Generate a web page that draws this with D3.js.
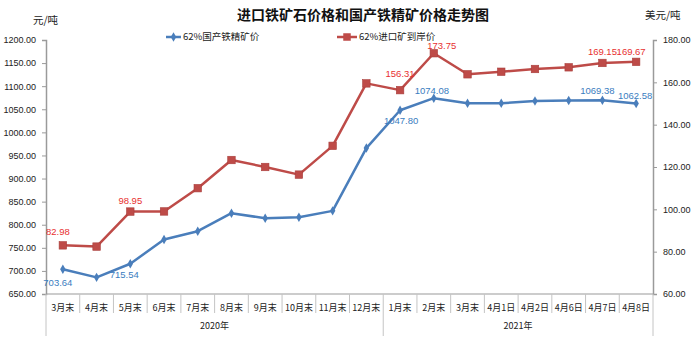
<!DOCTYPE html>
<html>
<head>
<meta charset="utf-8">
<script src="https://cdn.jsdelivr.net/npm/d3@7"></script>
<style>
  html, body { margin: 0; padding: 0; background: #ffffff; }
  svg { display: block; }
  .cjk { font-family: "Noto Sans CJK SC", "Noto Sans", sans-serif; }
  .num { font-family: "Liberation Sans", Arial, sans-serif; }
</style>
</head>
<body>
<svg id="chart" width="697" height="343"></svg>
<script>
// Category labels along the x axis, and the year each one belongs to
const categories = ["3月末","4月末","5月末","6月末","7月末","8月末","9月末","10月末","11月末","12月末",
                    "1月末","2月末","3月末","4月1日","4月2日","4月6日","4月7日","4月8日"];
const years = ["2020年","2020年","2020年","2020年","2020年","2020年","2020年","2020年","2020年","2020年",
               "2021年","2021年","2021年","2021年","2021年","2021年","2021年","2021年"];

// 62% domestic concentrate price (元/吨, left axis)
const domesticPrice = [703.64, 686, 715.54, 768, 786, 825, 814, 816, 830, 966,
                       1047.80, 1074.08, 1063, 1063, 1068, 1069, 1069.38, 1062.58];
// 62% imported ore CIF price (美元/吨, right axis)
const importPrice = [82.98, 82.4, 98.95, 99.0, 110, 123.3, 120, 116.4, 130, 159.5,
                     156.31, 173.75, 163.8, 165.0, 166.3, 167.1, 169.15, 169.67];

// Which points carry a value label
const domesticLabelled = [0, 2, 10, 11, 16, 17];
const importLabelled = [0, 2, 10, 11, 16, 17];

const leftTicks = [650, 700, 750, 800, 850, 900, 950, 1000, 1050, 1100, 1150, 1200];
const rightTicks = [60, 80, 100, 120, 140, 160, 180];

const svg = d3.select("#chart");
const plot = { left: 46, right: 653, top: 40, bottom: 294 };

const x = d3.scaleBand().domain(d3.range(categories.length)).range([plot.left, plot.right]);
const yL = d3.scaleLinear().domain([650, 1200]).range([plot.bottom, plot.top]);
const yR = d3.scaleLinear().domain([60, 180]).range([plot.bottom, plot.top]);
const cx = i => x(i) + x.bandwidth() / 2;

const axisColor = "#9a9a9a";
const blue = "#4a7ebb", red = "#be4b48";
const blueText = "#3a7dc0", redText = "#e8302f";

// Title and unit captions
svg.append("text").attr("class", "cjk").attr("x", 363).attr("y", 20)
  .attr("text-anchor", "middle").attr("font-size", 14).attr("font-weight", "bold")
  .attr("fill", "#111").text("进口铁矿石价格和国产铁精矿价格走势图");
svg.append("text").attr("class", "cjk").attr("x", 33).attr("y", 24)
  .attr("font-size", 10.5).attr("fill", "#222").text("元/吨");
svg.append("text").attr("class", "cjk").attr("x", 645).attr("y", 19)
  .attr("font-size", 10.5).attr("fill", "#222").text("美元/吨");

// Left axis
const gL = svg.append("g").attr("transform", `translate(${plot.left},0)`)
  .call(d3.axisLeft(yL).tickValues(leftTicks).tickFormat(d3.format(".2f")).tickSize(4).tickPadding(6));
// Right axis
const gR = svg.append("g").attr("transform", `translate(${plot.right},0)`)
  .call(d3.axisRight(yR).tickValues(rightTicks).tickFormat(d3.format(".2f")).tickSize(4).tickPadding(6));
[gL, gR].forEach(g => {
  g.select(".domain").attr("stroke", axisColor).attr("stroke-width", 1.5);
  g.selectAll(".tick line").attr("stroke", axisColor);
  g.selectAll(".tick text").attr("class", "num").attr("font-size", 9).attr("fill", "#222");
});

// Category axis with grouped year labels
const gX = svg.append("g");
gX.append("line").attr("x1", plot.left).attr("x2", plot.right)
  .attr("y1", plot.bottom).attr("y2", plot.bottom).attr("stroke", axisColor).attr("stroke-width", 1.2);
const bounds = d3.range(categories.length + 1);
gX.selectAll("line.sep").data(bounds).join("line").attr("class", "sep")
  .attr("x1", i => i < categories.length ? x(i) : plot.right)
  .attr("x2", i => i < categories.length ? x(i) : plot.right)
  .attr("y1", plot.bottom)
  .attr("y2", i => (i === 0 || i === categories.length || years[i] !== years[i - 1]) ? 336 : 313)
  .attr("stroke", "#c4c4c4").attr("stroke-width", 1);
gX.selectAll("text.cat").data(categories).join("text").attr("class", "cat cjk")
  .attr("x", (d, i) => cx(i)).attr("y", 311).attr("text-anchor", "middle")
  .attr("font-size", 9).attr("fill", "#222").text(d => d);
const groups = d3.groups(d3.range(categories.length), i => years[i]);
gX.selectAll("text.year").data(groups).join("text").attr("class", "year cjk")
  .attr("x", d => (x(d[1][0]) + x(d[1][d[1].length - 1]) + x.bandwidth()) / 2)
  .attr("y", 329).attr("text-anchor", "middle").attr("font-size", 9).attr("fill", "#222")
  .text(d => d[0]);

// Series lines
const lineL = d3.line().x((d, i) => cx(i)).y(d => yL(d));
const lineR = d3.line().x((d, i) => cx(i)).y(d => yR(d));
svg.append("path").attr("d", lineR(importPrice)).attr("fill", "none")
  .attr("stroke", red).attr("stroke-width", 2.5).attr("stroke-linejoin", "round");
svg.append("path").attr("d", lineL(domesticPrice)).attr("fill", "none")
  .attr("stroke", blue).attr("stroke-width", 2.5).attr("stroke-linejoin", "round");

// Markers
const sq = 7.5;
svg.selectAll("rect.imp").data(importPrice).join("rect").attr("class", "imp")
  .attr("x", (d, i) => cx(i) - sq / 2).attr("y", d => yR(d) - sq / 2)
  .attr("width", sq).attr("height", sq).attr("fill", red).attr("stroke", "#a93f3c").attr("stroke-width", 0.6);
const diamond = d3.symbol().type(d3.symbolDiamond).size(26);
svg.selectAll("path.dom").data(domesticPrice).join("path").attr("class", "dom")
  .attr("transform", (d, i) => `translate(${cx(i)},${yL(d)})`)
  .attr("d", diamond).attr("fill", blue);

// Value labels (offsets from each point)
const domOffsets = { 0: [-5, 14], 2: [-6, 12], 10: [1, 11], 11: [-2, -7], 16: [-5, -9], 17: [-1, -7] };
const impOffsets = { 0: [-5, -13], 2: [0, -10], 10: [0, -16], 11: [8, -7], 16: [0, -10], 17: [-5, -9] };
const fmt = d3.format(".2f");
svg.selectAll("text.domLbl").data(domesticLabelled).join("text").attr("class", "domLbl num")
  .attr("x", i => cx(i) + domOffsets[i][0]).attr("y", i => yL(domesticPrice[i]) + domOffsets[i][1])
  .attr("dominant-baseline", "middle").attr("text-anchor", "middle")
  .attr("font-size", 9.5).attr("fill", blueText).text(i => fmt(domesticPrice[i]));
svg.selectAll("text.impLbl").data(importLabelled).join("text").attr("class", "impLbl num")
  .attr("x", i => cx(i) + impOffsets[i][0]).attr("y", i => yR(importPrice[i]) + impOffsets[i][1])
  .attr("dominant-baseline", "middle").attr("text-anchor", "middle")
  .attr("font-size", 9.5).attr("fill", redText).text(i => fmt(importPrice[i]));

// Legend
const legend = svg.append("g");
legend.append("line").attr("x1", 166).attr("x2", 181).attr("y1", 37).attr("y2", 37)
  .attr("stroke", blue).attr("stroke-width", 2.5);
legend.append("path").attr("transform", "translate(173.5,37)").attr("d", diamond).attr("fill", blue);
legend.append("text").attr("class", "cjk").attr("x", 183).attr("y", 37)
  .attr("dominant-baseline", "middle").attr("font-size", 9.5).attr("fill", "#222").text("62%国产铁精矿价");
legend.append("line").attr("x1", 337).attr("x2", 357).attr("y1", 37).attr("y2", 37)
  .attr("stroke", red).attr("stroke-width", 2.5);
legend.append("rect").attr("x", 347 - sq / 2).attr("y", 37 - sq / 2).attr("width", sq).attr("height", sq).attr("fill", red);
legend.append("text").attr("class", "cjk").attr("x", 359).attr("y", 37)
  .attr("dominant-baseline", "middle").attr("font-size", 9.5).attr("fill", "#222").text("62%进口矿到岸价");
</script>
</body>
</html>
